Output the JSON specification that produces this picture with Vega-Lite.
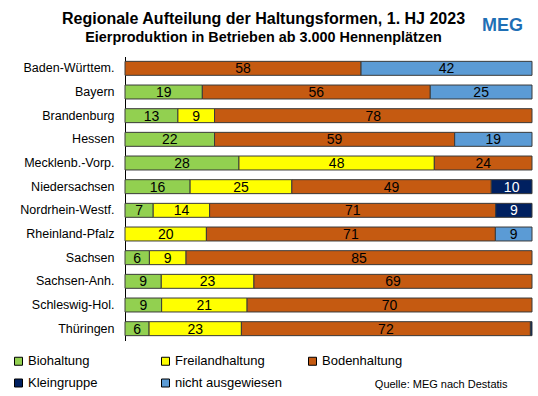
{
  "$schema": "https://vega.github.io/schema/vega-lite/v6.json",
  "width": 407,
  "height": 284,
  "autosize": {"type": "none"},
  "padding": {"left": 125, "top": 56.5, "right": 6, "bottom": 55.5},
  "background": "white",
  "config": {"font": "Liberation Sans", "view": {"stroke": null}},
  "title": {
    "text": "Regionale Aufteilung der Haltungsformen, 1. HJ 2023",
    "subtitle": "Eierproduktion in Betrieben ab 3.000 Hennenplätzen",
    "anchor": "middle",
    "frame": "group",
    "dx": -65,
    "offset": -28,
    "fontSize": 16,
    "fontWeight": "bold",
    "color": "black",
    "subtitleFontSize": 14.4,
    "subtitleFontWeight": "bold",
    "subtitleColor": "black",
    "subtitlePadding": 4
  },
  "data": {
    "values": [
      {"land": "Baden-Württem.", "form": "Bodenhaltung", "ord": 3, "value": 58},
      {"land": "Baden-Württem.", "form": "nicht ausgewiesen", "ord": 5, "value": 42},
      {"land": "Bayern", "form": "Biohaltung", "ord": 1, "value": 19},
      {"land": "Bayern", "form": "Bodenhaltung", "ord": 3, "value": 56},
      {"land": "Bayern", "form": "nicht ausgewiesen", "ord": 5, "value": 25},
      {"land": "Brandenburg", "form": "Biohaltung", "ord": 1, "value": 13},
      {"land": "Brandenburg", "form": "Freilandhaltung", "ord": 2, "value": 9},
      {"land": "Brandenburg", "form": "Bodenhaltung", "ord": 3, "value": 78},
      {"land": "Hessen", "form": "Biohaltung", "ord": 1, "value": 22},
      {"land": "Hessen", "form": "Bodenhaltung", "ord": 3, "value": 59},
      {"land": "Hessen", "form": "nicht ausgewiesen", "ord": 5, "value": 19},
      {"land": "Mecklenb.-Vorp.", "form": "Biohaltung", "ord": 1, "value": 28},
      {"land": "Mecklenb.-Vorp.", "form": "Freilandhaltung", "ord": 2, "value": 48},
      {"land": "Mecklenb.-Vorp.", "form": "Bodenhaltung", "ord": 3, "value": 24},
      {"land": "Niedersachsen", "form": "Biohaltung", "ord": 1, "value": 16},
      {"land": "Niedersachsen", "form": "Freilandhaltung", "ord": 2, "value": 25},
      {"land": "Niedersachsen", "form": "Bodenhaltung", "ord": 3, "value": 49},
      {"land": "Niedersachsen", "form": "Kleingruppe", "ord": 4, "value": 10},
      {"land": "Nordrhein-Westf.", "form": "Biohaltung", "ord": 1, "value": 7},
      {"land": "Nordrhein-Westf.", "form": "Freilandhaltung", "ord": 2, "value": 14},
      {"land": "Nordrhein-Westf.", "form": "Bodenhaltung", "ord": 3, "value": 71},
      {"land": "Nordrhein-Westf.", "form": "Kleingruppe", "ord": 4, "value": 9},
      {"land": "Rheinland-Pfalz", "form": "Freilandhaltung", "ord": 2, "value": 20},
      {"land": "Rheinland-Pfalz", "form": "Bodenhaltung", "ord": 3, "value": 71},
      {"land": "Rheinland-Pfalz", "form": "nicht ausgewiesen", "ord": 5, "value": 9},
      {"land": "Sachsen", "form": "Biohaltung", "ord": 1, "value": 6},
      {"land": "Sachsen", "form": "Freilandhaltung", "ord": 2, "value": 9},
      {"land": "Sachsen", "form": "Bodenhaltung", "ord": 3, "value": 85},
      {"land": "Sachsen-Anh.", "form": "Biohaltung", "ord": 1, "value": 9},
      {"land": "Sachsen-Anh.", "form": "Freilandhaltung", "ord": 2, "value": 23},
      {"land": "Sachsen-Anh.", "form": "Bodenhaltung", "ord": 3, "value": 69},
      {"land": "Schleswig-Hol.", "form": "Biohaltung", "ord": 1, "value": 9},
      {"land": "Schleswig-Hol.", "form": "Freilandhaltung", "ord": 2, "value": 21},
      {"land": "Schleswig-Hol.", "form": "Bodenhaltung", "ord": 3, "value": 70},
      {"land": "Thüringen", "form": "Biohaltung", "ord": 1, "value": 6},
      {"land": "Thüringen", "form": "Freilandhaltung", "ord": 2, "value": 23},
      {"land": "Thüringen", "form": "Bodenhaltung", "ord": 3, "value": 72},
      {"land": "Thüringen", "form": "Kleingruppe", "ord": 4, "value": 0.4}
    ]
  },
  "transform": [
    {"stack": "value", "groupby": ["land"], "sort": [{"field": "ord", "order": "ascending"}], "offset": "normalize", "as": ["x0", "x1"]},
    {"calculate": "(datum.x0 + datum.x1) / 2", "as": "xm"}
  ],
  "encoding": {
    "y": {
      "field": "land",
      "type": "nominal",
      "sort": ["Baden-Württem.", "Bayern", "Brandenburg", "Hessen", "Mecklenb.-Vorp.", "Niedersachsen", "Nordrhein-Westf.", "Rheinland-Pfalz", "Sachsen", "Sachsen-Anh.", "Schleswig-Hol.", "Thüringen"],
      "scale": {"paddingInner": 0.41, "paddingOuter": 0.205},
      "axis": {
        "title": "MEG",
        "titleAngle": 0,
        "titleX": 377,
        "titleY": -31,
        "titleAlign": "center",
        "titleBaseline": "middle",
        "titleColor": "#1F6FB5",
        "titleFontSize": 18,
        "titleFontWeight": "bold",
        "titleFontStyle": "normal",
        "ticks": false,
        "domainColor": "black",
        "domainWidth": 1,
        "labelFontSize": 12.5,
        "labelColor": "black",
        "labelPadding": 11
      }
    }
  },
  "layer": [
    {
      "mark": {"type": "bar", "stroke": "#3a3a3a", "strokeWidth": 1},
      "encoding": {
        "x": {
          "field": "x0",
          "type": "quantitative",
          "scale": {"domain": [0, 1], "nice": false},
          "axis": {
            "title": "Quelle: MEG nach Destatis",
            "titleX": 382,
            "titleY": 43.5,
            "titleAlign": "right",
            "titleBaseline": "middle",
            "titleFontSize": 11,
            "titleFontWeight": "normal",
            "titleColor": "black",
            "labels": false,
            "ticks": false,
            "domain": false,
            "grid": false
          }
        },
        "x2": {"field": "x1"},
        "color": {
          "field": "form",
          "type": "nominal",
          "scale": {
            "domain": ["Biohaltung", "Freilandhaltung", "Bodenhaltung", "Kleingruppe", "nicht ausgewiesen"],
            "range": ["#92D050", "#FFFF00", "#C55A11", "#002060", "#5B9BD5"]
          },
          "legend": {
            "title": null,
            "orient": "none",
            "legendX": -113,
            "legendY": 298,
            "direction": "horizontal",
            "columns": 3,
            "gridAlign": "all",
            "columnPadding": 24,
            "rowPadding": 8,
            "symbolType": "square",
            "symbolSize": 64,
            "symbolStrokeColor": "black",
            "symbolStrokeWidth": 1,
            "symbolOpacity": 1,
            "labelFontSize": 13,
            "labelColor": "black",
            "labelOffset": 3
          }
        }
      }
    },
    {
      "transform": [{"filter": "datum.value >= 1"}],
      "mark": {"type": "text", "fontSize": 14, "baseline": "middle", "align": "center", "dy": 1},
      "encoding": {
        "x": {"field": "xm", "type": "quantitative"},
        "text": {"field": "value", "type": "quantitative"},
        "color": {
          "condition": {"test": "datum.form === 'Kleingruppe'", "value": "white"},
          "value": "black"
        }
      }
    }
  ]
}
